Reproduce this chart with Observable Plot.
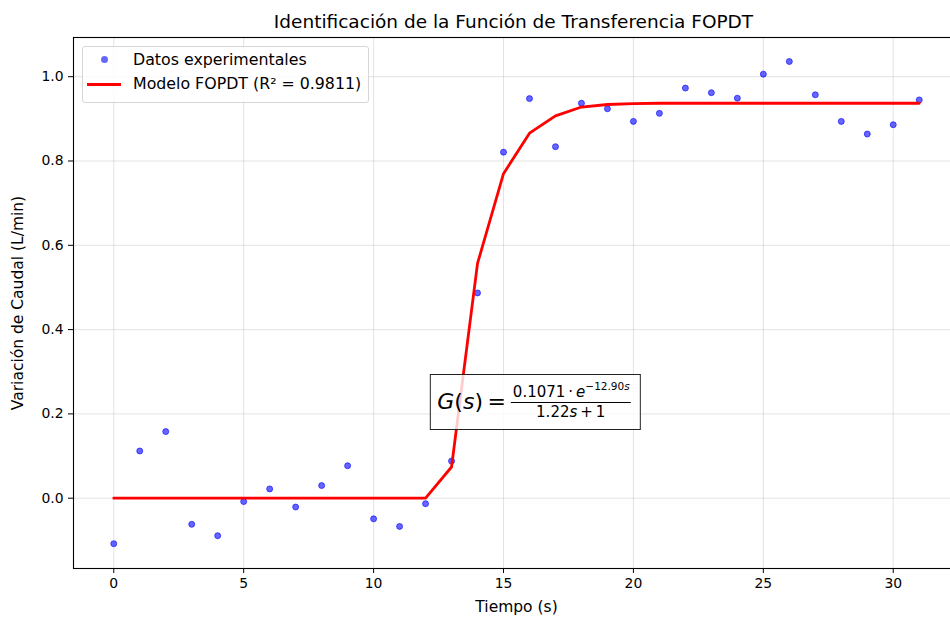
<!DOCTYPE html>
<html>
<head>
<meta charset="utf-8">
<script src="https://cdn.jsdelivr.net/npm/d3@7"></script>
<script src="https://cdn.jsdelivr.net/npm/@observablehq/plot@0.6"></script>
<style>
  body { margin: 0; background: #fff; font-family: "DejaVu Sans", sans-serif; }
  #wrap { position: relative; width: 950px; height: 619px; overflow: hidden; background: #fff; }
  #legend { position: absolute; left: 82px; top: 46px; width: 287px; height: 57px;
    border: 1px solid #d6d6d6; border-radius: 3px; background: rgba(255,255,255,0.8);
    font-family: "DejaVu Sans", sans-serif; font-size: 15.8px; color: #000; box-sizing: border-box; }
  #legend .row { position: absolute; left: 0; height: 20px; line-height: 20px; width: 100%; }
  #legend .lbl { position: absolute; left: 50px; top: 0; white-space: nowrap; }
  #legend .dot { position: absolute; left: 18px; top: 6px; width: 7px; height: 7px; border-radius: 50%;
    background: rgba(0,0,255,0.6); }
  #legend .ln { position: absolute; left: 4px; top: 9px; width: 34px; height: 3px; background: red; }
  #ann { position: absolute; transform: translate(-50%, -50%); border: 1px solid #222;
    background: rgba(255,255,255,0.8); padding: 7px 9px 8px 6px; white-space: nowrap;
    font-family: "DejaVu Sans", sans-serif; color: #000; display: flex; align-items: center; }
  #ann .lhs { font-size: 22px; }
  #ann i { font-style: oblique; }
  #ann .frac { display: inline-flex; flex-direction: column; align-items: center; margin-left: 5px; font-size: 15px; }
  #ann .num { border-bottom: 1px solid #000; padding: 0 1px 0px 2px; line-height: 20px; }
  #ann .den { line-height: 18px; }
  #ann sup { font-size: 10.5px; vertical-align: 7px; line-height: 0; }
</style>
</head>
<body>
<div id="wrap"></div>
<script>
// ---- Data ----
const tiempo = [0,1,2,3,4,5,6,7,8,9,10,11,12,13,14,15,16,17,18,19,20,21,22,23,24,25,26,27,28,29,30,31];
const datosExperimentales = [-0.108, 0.112, 0.158, -0.062, -0.089, -0.008, 0.022, -0.021, 0.030, 0.077,
  -0.049, -0.067, -0.013, 0.088, 0.487, 0.821, 0.948, 0.834, 0.937, 0.924,
  0.894, 0.913, 0.973, 0.962, 0.949, 1.006, 1.036, 0.957, 0.894, 0.864, 0.886, 0.945];
const modeloFOPDT = [0, 0, 0, 0, 0, 0, 0, 0, 0, 0,
  0, 0, 0, 0.074, 0.557, 0.770, 0.866, 0.907, 0.928, 0.934,
  0.936, 0.937, 0.937, 0.937, 0.937, 0.937, 0.937, 0.937, 0.937, 0.937, 0.937, 0.937];
const xTicks = [0, 5, 10, 15, 20, 25, 30];
const yTicks = [0.0, 0.2, 0.4, 0.6, 0.8, 1.0];
const titulo = "Identificación de la Función de Transferencia FOPDT";
const etiquetaX = "Tiempo (s)";
const etiquetaY = "Variación de Caudal (L/min)";
const leyendaDatos = "Datos experimentales";
const leyendaModelo = "Modelo FOPDT (R² = 0.9811)";
const anotacionX = 16.25;
const anotacionY = 0.228;

const puntos = tiempo.map((t, i) => ({t, v: datosExperimentales[i]}));
const curva = tiempo.map((t, i) => ({t, v: modeloFOPDT[i]}));

const plot = Plot.plot({
  width: 950,
  height: 619,
  marginTop: 37,
  marginBottom: 51,
  marginLeft: 73,
  marginRight: -9,
  style: { fontFamily: "DejaVu Sans, sans-serif", fontSize: "13.9px", color: "#000", background: "#fff", overflow: "visible" },
  x: { domain: [-1.55, 32.55] },
  y: { domain: [-0.1668, 1.093] },
  marks: [
    Plot.gridX(xTicks, { stroke: "#b0b0b0", strokeOpacity: 0.35, strokeWidth: 1 }),
    Plot.gridY(yTicks, { stroke: "#b0b0b0", strokeOpacity: 0.35, strokeWidth: 1 }),
    Plot.dot(puntos, { x: "t", y: "v", r: 3, fill: "blue", fillOpacity: 0.6, stroke: "blue", strokeOpacity: 0.6, strokeWidth: 1 }),
    Plot.line(curva, { x: "t", y: "v", stroke: "red", strokeWidth: 2.8 }),
    Plot.frame({ stroke: "#000", strokeWidth: 1.1 }),
    Plot.axisX(xTicks, { tickSize: 5, tickPadding: 5, label: null, fontSize: 13.9, stroke: "#000" }),
    Plot.axisY(yTicks, { tickSize: 5, tickPadding: 5, label: null, fontSize: 13.9, tickFormat: d3.format(".1f"), stroke: "#000" }),
    Plot.text([titulo], { frameAnchor: "top", lineAnchor: "middle", textAnchor: "middle", dx: -3, dy: -15, fontSize: 18.5, fill: "#000" }),
    Plot.text([etiquetaX], { frameAnchor: "bottom", lineAnchor: "middle", textAnchor: "middle", dy: 39, fontSize: 15.5, fill: "#000" }),
    Plot.text([etiquetaY], { frameAnchor: "left", lineAnchor: "middle", textAnchor: "middle", dx: -55, rotate: -90, fontSize: 15.5, fill: "#000" })
  ]
});

const wrap = document.getElementById("wrap");
wrap.appendChild(plot);

// Legend
const leg = document.createElement("div");
leg.id = "legend";
leg.innerHTML = `
  <div class="row" style="top:3px"><span class="dot"></span><span class="lbl"></span></div>
  <div class="row" style="top:27px"><span class="ln"></span><span class="lbl"></span></div>`;
const lbls = leg.querySelectorAll(".lbl");
lbls[0].textContent = leyendaDatos;
lbls[1].textContent = leyendaModelo;
wrap.appendChild(leg);

// Annotation with transfer function
const sx = plot.scale("x"), sy = plot.scale("y");
const ann = document.createElement("div");
ann.id = "ann";
ann.innerHTML = `<span class="lhs"><i>G</i>(<i>s</i>)&#8201;=</span><span class="frac"><span class="num">0.1071&#8201;·&#8201;<i>e</i><sup>−12.90<i>s</i></sup></span><span class="den">1.22<i>s</i>&#8201;+&#8201;1</span></span>`;
ann.style.left = sx.apply(anotacionX) + "px";
ann.style.top = sy.apply(anotacionY) + "px";
wrap.appendChild(ann);
</script>
</body>
</html>
